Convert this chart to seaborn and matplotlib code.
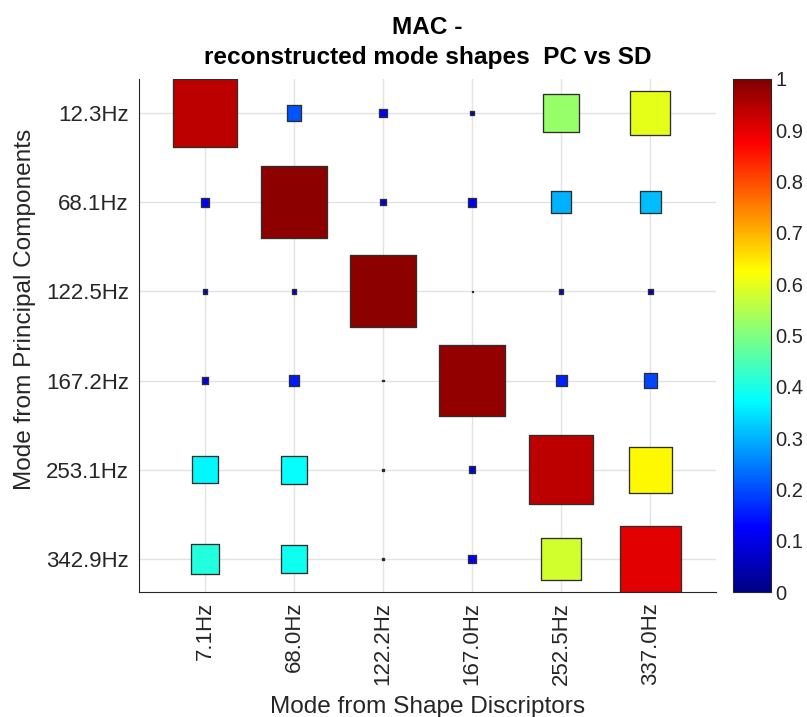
import numpy as np
import pandas as pd
import matplotlib
matplotlib.use("Agg")
import matplotlib.pyplot as plt
import seaborn as sns
from matplotlib.path import Path
from matplotlib.markers import MarkerStyle
from matplotlib.colors import LinearSegmentedColormap, Normalize
from matplotlib.cm import ScalarMappable

# ---- data ----
sd_modes = ["7.1Hz", "68.0Hz", "122.2Hz", "167.0Hz", "252.5Hz", "337.0Hz"]
pc_modes = ["12.3Hz", "68.1Hz", "122.5Hz", "167.2Hz", "253.1Hz", "342.9Hz"]
mac_12_3 = [0.94, 0.21, 0.12, 0.06, 0.52, 0.60]
mac_68_1 = [0.12, 0.985, 0.09, 0.12, 0.30, 0.31]
mac_122_5 = [0.07, 0.07, 0.985, 0.015, 0.065, 0.07]
mac_167_2 = [0.10, 0.15, 0.02, 0.98, 0.16, 0.195]
mac_253_1 = [0.37, 0.38, 0.03, 0.09, 0.94, 0.63]
mac_342_9 = [0.41, 0.39, 0.03, 0.12, 0.58, 0.90]
mac_rows = [mac_12_3, mac_68_1, mac_122_5, mac_167_2, mac_253_1, mac_342_9]

rows = []
for i, (pc, vals) in enumerate(zip(pc_modes, mac_rows)):
    for j, (sd, v) in enumerate(zip(sd_modes, vals)):
        rows.append({"sd": j + 1, "pc": i + 1, "mac": v, "area": v * v})
df = pd.DataFrame(rows)

# ---- style ----
sns.set_theme(style="whitegrid")
plt.rcParams["font.family"] = ["Liberation Sans", "DejaVu Sans"]
txt = "#262626"

# MATLAB-like jet colormap
jet_m = LinearSegmentedColormap("jet_m", {
    "red":   [(0, 0, 0), (3/8, 0, 0), (5/8, 1, 1), (7/8, 1, 1), (1, 0.5, 0.5)],
    "green": [(0, 0, 0), (1/8, 0, 0), (3/8, 1, 1), (5/8, 1, 1), (7/8, 0, 0), (1, 0, 0)],
    "blue":  [(0, 0.52, 0.52), (1/8, 1, 1), (3/8, 1, 1), (5/8, 0, 0), (1, 0, 0)],
}, N=256)

W, H, DPI = 807, 717, 100
fig = plt.figure(figsize=(W / DPI, H / DPI), dpi=DPI)
ax = fig.add_axes([138.7 / W, 1 - 592 / H, (716 - 138.7) / W, (592 - 79) / H])
cax = fig.add_axes([732.7 / W, 1 - 592 / H, (770.7 - 732.7) / W, (592 - 79) / H])

# rectangular marker (slightly taller than wide, as in reference)
rect = Path([(-0.465, -0.5), (0.465, -0.5), (0.465, 0.5), (-0.465, 0.5), (-0.465, -0.5)],
            [Path.MOVETO, Path.LINETO, Path.LINETO, Path.LINETO, Path.CLOSEPOLY])
side_pt = 73 / DPI * 72  # marker height for MAC = 1
smax = side_pt ** 2

sns.scatterplot(data=df, x="sd", y="pc", hue="mac", palette=jet_m, hue_norm=(0, 1),
                size="area", sizes=(0, smax), size_norm=(0, 1),
                marker=MarkerStyle(rect), edgecolor="#2e2e2e", linewidth=0.95,
                legend=False, ax=ax, zorder=3)

ax.set_xlim(0.255, 6.74)
ax.set_ylim(6.37, 0.62)
ax.set_xticks(range(1, 7))
ax.set_xticklabels(sd_modes, rotation=90)
ax.set_yticks(range(1, 7))
ax.set_yticklabels(pc_modes)
ax.tick_params(axis="both", direction="in", length=5, width=0.8, color=txt,
               labelsize=16, labelcolor=txt, pad=7)
ax.grid(True, color="#e3e3e3", linewidth=1.0)
ax.set_axisbelow(True)
ax.set_facecolor("white")
for s in ["top", "right"]:
    ax.spines[s].set_visible(False)
for s in ["left", "bottom"]:
    ax.spines[s].set_color(txt)
    ax.spines[s].set_linewidth(0.8)

ax.set_xlabel("Mode from Shape Discriptors", fontsize=17.6, color=txt)
ax.set_ylabel("Mode from Principal Components", fontsize=17.6, color=txt)
ax.xaxis.set_label_coords(0.5, -0.203)
ax.yaxis.set_label_coords(-0.178, 0.55)
ax.set_title("MAC -\nreconstructed mode shapes  PC vs SD", fontsize=17.6,
             fontweight="bold", color="black", pad=11, linespacing=1.35)

sm = ScalarMappable(norm=Normalize(0, 1), cmap=jet_m)
cb = fig.colorbar(sm, cax=cax, ticks=np.linspace(0, 1, 11))
cb.ax.set_yticklabels(["0", "0.1", "0.2", "0.3", "0.4", "0.5", "0.6", "0.7", "0.8", "0.9", "1"])
cb.ax.tick_params(direction="in", length=5, width=0.8, color=txt, labelsize=14.5,
                  labelcolor=txt, pad=3.5)
cb.outline.set_edgecolor(txt)
cb.outline.set_linewidth(0.8)
cb.ax.grid(False)

fig.savefig("out.png", dpi=DPI)
